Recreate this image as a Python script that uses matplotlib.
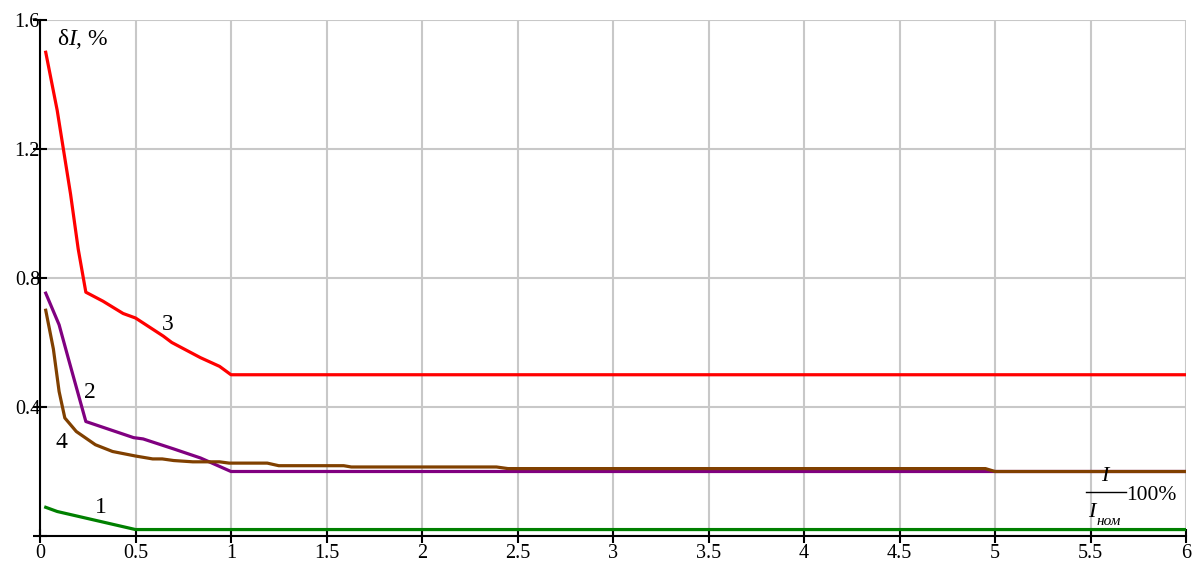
import matplotlib
matplotlib.use("Agg")
import matplotlib.pyplot as plt

plt.rcParams['font.family'] = ['Liberation Serif', 'DejaVu Serif']
plt.rcParams['mathtext.fontset'] = 'custom'
plt.rcParams['mathtext.rm'] = 'Liberation Serif'
plt.rcParams['mathtext.it'] = 'Liberation Serif:italic'

# крива 1 (зелена)
x1 = [0.03, 0.09, 0.5, 6.0]
y1 = [0.089, 0.076, 0.02, 0.02]

# крива 2 (фиолетова)
x2 = [0.03, 0.1, 0.15, 0.24, 0.37, 0.49, 0.54, 0.7, 0.84, 1.0, 6.0]
y2 = [0.753, 0.655, 0.547, 0.355, 0.329, 0.305, 0.301, 0.27, 0.242, 0.2, 0.2]

# крива 3 (червена)
x3 = [0.03, 0.09, 0.125, 0.16, 0.2, 0.24, 0.33, 0.435, 0.5, 0.645, 0.69, 0.84, 0.94, 1.0, 6.0]
y3 = [1.5, 1.32, 1.19, 1.06, 0.89, 0.756, 0.728, 0.69, 0.676, 0.62, 0.6, 0.553, 0.526, 0.5, 0.5]

# крива 4 (кафява)
x4 = [0.03, 0.07, 0.1, 0.13, 0.19, 0.29, 0.38, 0.5, 0.59, 0.64, 0.7, 0.8, 0.94, 0.99,
      1.19, 1.25, 1.59, 1.63, 2.39, 2.45, 4.95, 5.0, 6.0]
y4 = [0.70, 0.58, 0.448, 0.366, 0.324, 0.283, 0.262, 0.248, 0.239, 0.239, 0.234, 0.23, 0.23, 0.226,
      0.226, 0.218, 0.218, 0.214, 0.214, 0.209, 0.209, 0.2, 0.2]

xticks = [0, 0.5, 1, 1.5, 2, 2.5, 3, 3.5, 4, 4.5, 5, 5.5, 6]
xticklabels = ["0", "0.5", "1", "1.5", "2", "2.5", "3", "3.5", "4", "4.5", "5", "5.5", "6"]
yticks = [0, 0.4, 0.8, 1.2, 1.6]
yticklabels = ["", "0.4", "0.8", "1.2", "1.6"]

fig = plt.figure(figsize=(11.94, 5.63), dpi=100)
ax = fig.add_axes([40 / 1194, 27 / 563, 1146 / 1194, 516 / 563])

ax.plot(x1, y1, color='#008000', lw=2.3)
ax.plot(x2, y2, color='#800080', lw=2.3)
ax.plot(x3, y3, color='#ff0000', lw=2.3)
ax.plot(x4, y4, color='#804000', lw=2.3)

ax.set_xlim(0, 6)
ax.set_ylim(0, 1.6)
ax.set_xticks(xticks)
ax.set_xticklabels(xticklabels)
ax.set_yticks(yticks)
ax.set_yticklabels(yticklabels)
ax.grid(True, color='#c8c8c8', lw=1.5)
ax.set_axisbelow(True)
for s in ['top', 'right']:
    ax.spines[s].set_visible(False)
for s in ['left', 'bottom']:
    ax.spines[s].set_linewidth(1.5)
ax.tick_params(direction='inout', length=10, width=1.5, labelsize=14.5)
ax.tick_params(axis='x', pad=1)
ax.tick_params(axis='y', pad=-5)

ax.text(0.09, 1.54, r'$\mathrm{\delta}I$, %', fontsize=17, va='center', ha='left')
ax.text(0.67, 0.655, "3", fontsize=17, ha='center', va='center')
ax.text(0.26, 0.444, "2", fontsize=17, ha='center', va='center')
ax.text(0.11, 0.29, "4", fontsize=17, ha='center', va='center')
ax.text(0.32, 0.087, "1", fontsize=17, ha='center', va='center')

# підпис осі x: I / I_ном · 100%
ax.text(5.576, 0.185, "I", fontsize=16, style='italic', ha='center', va='center')
ax.plot([5.478, 5.685], [0.136, 0.136], color='black', lw=1.0)
ax.text(5.505, 0.072, "I", fontsize=16, style='italic', ha='center', va='center')
ax.text(5.53, 0.045, "ном", fontsize=11, style='italic', ha='left', va='center')
ax.text(5.685, 0.127, "100%", fontsize=15.5, ha='left', va='center')

fig.savefig("out.png", dpi=100)
